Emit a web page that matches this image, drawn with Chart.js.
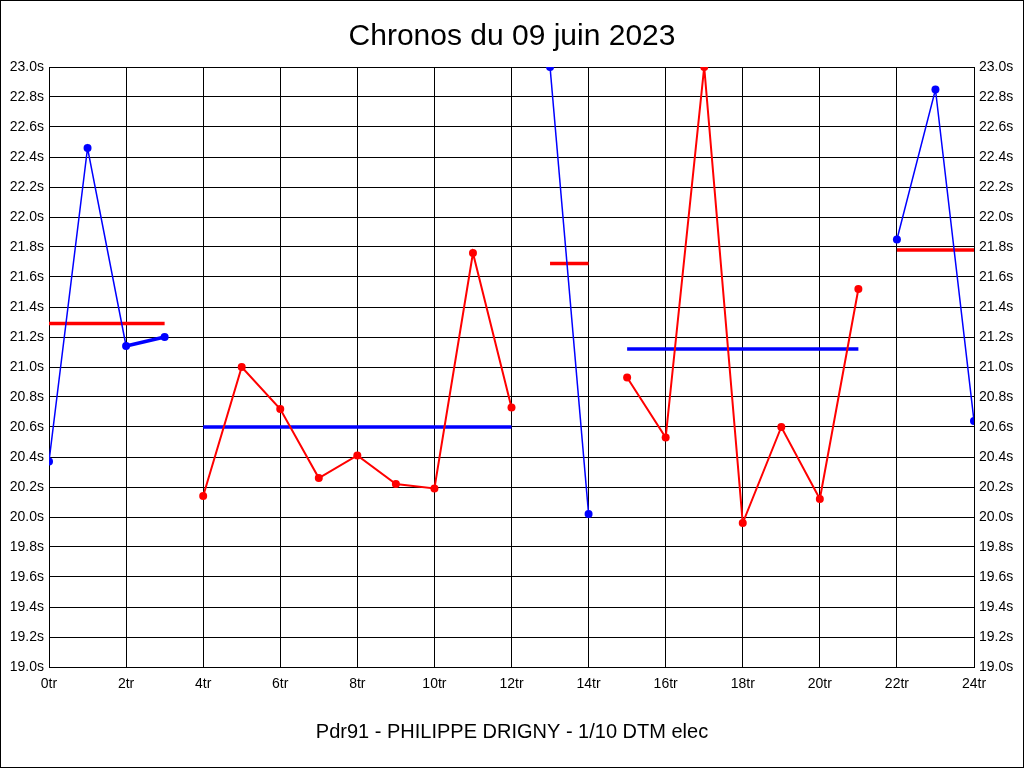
<!DOCTYPE html>
<html>
<head>
<meta charset="utf-8">
<script src="https://cdn.jsdelivr.net/npm/chart.js@4"></script>
<style>
body { margin: 0; background: #fff; }
</style>
</head>
<body>
<canvas id="chronos" width="1024" height="768"></canvas>
<script>
// tours et temps par série
const tours1 = [0, 1, 2, 3];
const temps1 = [20.37, 22.46, 21.14, 21.20];
const tours2 = [4, 5, 6, 7, 8, 9, 10, 11, 12];
const temps2 = [20.14, 21.00, 20.72, 20.26, 20.41, 20.22, 20.19, 21.76, 20.73];
const tours3 = [13, 14];
const temps3 = [23.00, 20.02];
const tours4 = [15, 16, 17, 18, 19, 20, 21];
const temps4 = [20.93, 20.53, 23.00, 19.96, 20.60, 20.12, 21.52];
const tours5 = [22, 23, 24];
const temps5 = [21.85, 22.85, 20.64];
// moyennes de chaque série
const moyennes = [21.29, 20.60, 21.69, 21.12, 21.78];

const bleu = '#0000ff';
const rouge = '#ff0000';

function points(tours, temps) {
    let res = [];
    for (let i = 0; i < tours.length; i++) {
        res.push({ x: tours[i], y: temps[i] });
    }
    return res;
}
function serie(tours, temps, couleur, epaisseur) {
    return {
        data: points(tours, temps),
        borderColor: couleur,
        backgroundColor: couleur,
        borderWidth: epaisseur,
        pointRadius: 4,
        pointBorderWidth: 0,
        pointHoverRadius: 4
    };
}
function moyenne(tours, valeur, couleur) {
    let t = [tours[0], tours[tours.length - 1]];
    return {
        data: points(t, [valeur, valeur]),
        borderColor: couleur,
        backgroundColor: couleur,
        borderWidth: 3.5,
        pointRadius: 0
    };
}

let s1 = serie(tours1, temps1, bleu, 1.5);
s1.segment = { borderWidth: ctx => ctx.p0DataIndex == 2 ? 3.5 : 1.5 };

const cadre = {
    id: 'cadre',
    beforeDraw(chart) {
        const c = chart.ctx;
        c.save();
        c.fillStyle = '#fff';
        c.fillRect(0, 0, chart.width, chart.height);
        c.strokeStyle = '#000';
        c.lineWidth = 1;
        c.strokeRect(0.5, 0.5, chart.width - 1, chart.height - 1);
        c.restore();
    }
};

const police = { family: "'Liberation Sans', Arial, sans-serif", size: 14 };

var ctx = document.getElementById('chronos');
var graph = new Chart(ctx, {
    type: 'line',
    data: {
        datasets: [
            s1,
            moyenne(tours1, moyennes[0], rouge),
            serie(tours2, temps2, rouge, 2),
            moyenne(tours2, moyennes[1], bleu),
            serie(tours3, temps3, bleu, 1.5),
            moyenne(tours3, moyennes[2], rouge),
            serie(tours4, temps4, rouge, 2),
            moyenne(tours4, moyennes[3], bleu),
            serie(tours5, temps5, bleu, 1.5),
            moyenne(tours5, moyennes[4], rouge)
        ]
    },
    options: {
        responsive: false,
        animation: false,
        layout: { padding: 0 },
        plugins: {
            legend: { display: false },
            tooltip: { enabled: false },
            title: {
                display: true,
                text: 'Chronos du 09 juin 2023',
                color: '#000',
                font: { family: "'Liberation Sans', Arial, sans-serif", size: 30, weight: 'normal' },
                padding: { top: 19, bottom: 12 }
            },
            subtitle: {
                display: true,
                position: 'bottom',
                text: 'Pdr91 - PHILIPPE DRIGNY - 1/10 DTM elec',
                color: '#000',
                font: { family: "'Liberation Sans', Arial, sans-serif", size: 20, weight: 'normal' },
                padding: { top: 10, bottom: 24 }
            }
        },
        scales: {
            x: {
                type: 'linear',
                min: 0,
                max: 24,
                afterFit: s => { s.height = 43; },
                grid: { color: '#000', drawTicks: false },
                border: { color: '#000' },
                ticks: {
                    stepSize: 2,
                    color: '#000',
                    font: police,
                    padding: 9,
                    maxRotation: 0,
                    callback: v => v + 'tr'
                }
            },
            y: {
                position: 'left',
                min: 19,
                max: 23,
                afterFit: s => { s.width = 49; },
                grid: { color: '#000', drawTicks: false },
                border: { color: '#000' },
                ticks: {
                    stepSize: 0.2,
                    color: '#000',
                    font: police,
                    padding: 5,
                    callback: v => v.toFixed(1) + 's'
                }
            },
            y2: {
                position: 'right',
                min: 19,
                max: 23,
                afterFit: s => { s.width = 50; },
                grid: { display: false, drawTicks: false },
                border: { color: '#000' },
                ticks: {
                    stepSize: 0.2,
                    color: '#000',
                    font: police,
                    padding: 5,
                    callback: v => v.toFixed(1) + 's'
                }
            }
        }
    },
    plugins: [cadre]
});
</script>
</body>
</html>
